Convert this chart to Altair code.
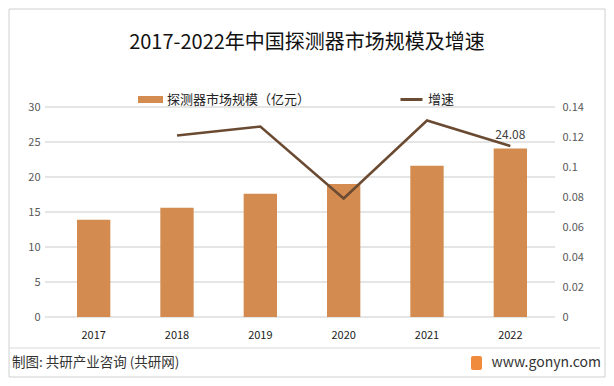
import altair as alt
import pandas as pd

years = ["2017", "2018", "2019", "2020", "2021", "2022"]
scale_values = [13.9, 15.6, 17.6, 19.0, 21.6, 24.08]
growth_years = ["2018", "2019", "2020", "2021", "2022"]
growth_values = [0.121, 0.127, 0.079, 0.131, 0.114]
left_ticks = [0, 5, 10, 15, 20, 25, 30]
right_ticks = [0, 0.02, 0.04, 0.06, 0.08, 0.1, 0.12, 0.14]
bar_name = "探测器市场规模（亿元）"
line_name = "增速"
title_text = "2017-2022年中国探测器市场规模及增速"
source_text = "制图: 共研产业咨询 (共研网)"
site_text = "www.gonyn.com"

FONT = "Noto Sans CJK SC"
BAR_COLOR = "#D38B4F"
LINE_COLOR = "#6B4A32"

bar_df = pd.DataFrame({"year": years, "value": scale_values, "series": bar_name})
line_df = pd.DataFrame({"year": growth_years, "growth": growth_values, "series": line_name})
grid_df = pd.DataFrame({"value": left_ticks})
label_df = bar_df.tail(1).copy()
label_df["label"] = label_df["value"].map(lambda v: f"{v:.2f}")
one = pd.DataFrame({"a": [0]})

x_enc = alt.X(
    "year:N",
    scale=alt.Scale(domain=years, paddingInner=0.6, paddingOuter=0.3),
    axis=alt.Axis(title=None, labelAngle=0, domain=False, ticks=False,
                  labelColor="#222222", labelFontSize=11, labelPadding=12,
                  labelFont=FONT),
)

y_left = alt.Y(
    "value:Q",
    scale=alt.Scale(domain=[0, 30], nice=False),
    axis=alt.Axis(title=None, values=left_ticks, domain=False, ticks=False,
                  labelColor="#595959", labelFontSize=11, labelPadding=12,
                  labelOverlap=False, grid=False, labelFont=FONT),
)

grid = alt.Chart(grid_df).mark_rule(color="#CCCCCC", strokeWidth=1.2).encode(
    y=y_left, x=alt.value(-7), x2=alt.value(503)
)

bars = alt.Chart(bar_df).mark_bar().encode(
    x=x_enc,
    y=y_left,
    color=alt.Color(
        "series:N",
        scale=alt.Scale(domain=[bar_name], range=[BAR_COLOR]),
        legend=alt.Legend(orient="none", legendX=86, legendY=-20, title=None,
                          symbolType="M-1,-0.28L1,-0.28L1,0.28L-1,0.28Z",
                          symbolSize=625, symbolStrokeWidth=0,
                          labelFontSize=13, labelColor="#222222", labelFont=FONT,
                          padding=0),
    ),
)

labels = alt.Chart(label_df).mark_text(
    dy=-13, fontSize=12, color="#404040", font=FONT
).encode(x=x_enc, y=y_left, text="label:N")

left = alt.layer(grid, bars, labels)

line = alt.Chart(line_df).mark_line(strokeWidth=2.5).encode(
    x=alt.X("year:N", scale=alt.Scale(domain=years)),
    y=alt.Y(
        "growth:Q",
        scale=alt.Scale(domain=[0, 0.14], nice=False),
        axis=alt.Axis(title=None, values=right_ticks, orient="right", domain=False,
                      ticks=False, grid=False, format=".2~f", labelOverlap=False,
                      labelColor="#595959", labelFontSize=11, labelPadding=10,
                      labelFont=FONT),
    ),
    stroke=alt.Stroke(
        "series:N",
        scale=alt.Scale(domain=[line_name], range=[LINE_COLOR]),
        legend=alt.Legend(orient="none", legendX=347, legendY=-20, title=None,
                          symbolType="stroke", symbolSize=484, symbolStrokeWidth=3,
                          labelFontSize=13, labelColor="#222222", labelFont=FONT,
                          padding=0),
    ),
)

border = alt.Chart(one).mark_rect(fill=None, stroke="#D0D0D0", strokeWidth=1).encode(
    x=alt.value(-43), x2=alt.value(553), y=alt.value(-98), y2=alt.value(270)
)
sep = alt.Chart(one).mark_rule(color="#D9D9D9", strokeWidth=1).encode(
    x=alt.value(-43), x2=alt.value(548), y=alt.value(241)
)
title = alt.Chart(one).mark_text(
    text=title_text, fontSize=20, font=FONT, color="#111111", align="center", baseline="middle"
).encode(x=alt.value(255), y=alt.value(-64))
source = alt.Chart(one).mark_text(
    text=source_text, fontSize=13.5, font=FONT, color="#333333", align="left", baseline="middle"
).encode(x=alt.value(-40), y=alt.value(256))
site = alt.Chart(one).mark_text(
    text=site_text, fontSize=14, font=FONT, color="#333333", align="right", baseline="middle"
).encode(x=alt.value(549), y=alt.value(256))
logo = alt.Chart(one).mark_rect(fill="#F08A3C", cornerRadius=2).encode(
    x=alt.value(419), x2=alt.value(430), y=alt.value(249), y2=alt.value(263)
)

chart = alt.layer(left, line, border, sep, title, source, site, logo).resolve_scale(
    y="independent", color="independent"
).properties(
    width=500, height=210,
    autosize=alt.AutoSizeParams(type="none"),
    padding={"left": 44, "top": 99, "right": 54, "bottom": 61},
    background="white",
).configure_view(stroke=None)

chart.save("out.html", embed_options={"renderer": "svg", "actions": False})
